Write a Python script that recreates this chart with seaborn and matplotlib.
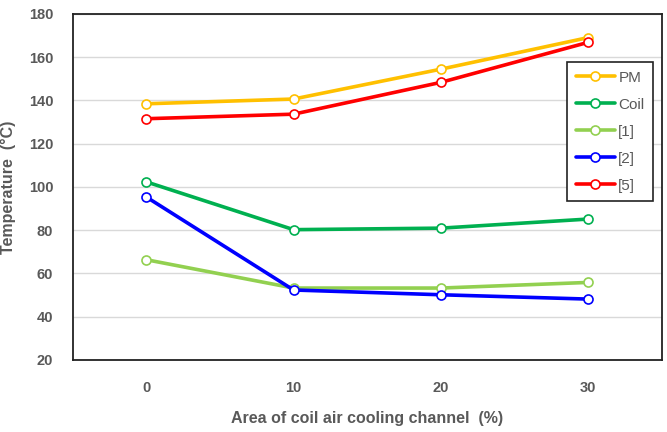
import pandas as pd
import seaborn as sns
import matplotlib.pyplot as plt

area = [0, 10, 20, 30]
pm = [138.4, 140.6, 154.4, 169.0]
coil = [102.3, 80.2, 80.9, 85.1]
ref1 = [66.3, 53.2, 53.2, 55.8]
ref2 = [95.3, 52.3, 50.1, 48.1]
ref5 = [131.5, 133.6, 148.3, 166.8]

series = ['PM', 'Coil', '[1]', '[2]', '[5]']
colors = ['#FFC000', '#00B050', '#92D050', '#0000FF', '#FF0000']

df = pd.DataFrame({
    'area': area * 5,
    'temp': pm + coil + ref1 + ref2 + ref5,
    'series': [s for s in series for _ in area],
})

sns.set_style('white')
plt.rcParams['font.family'] = ['Liberation Sans', 'DejaVu Sans']
gray = '#595959'

fig = plt.figure(figsize=(6.67, 4.32), dpi=100)
ax = fig.add_axes([0.109, 0.167, 0.883, 0.801])

for name, c in zip(series, colors):
    d = df[df['series'] == name]
    sns.lineplot(data=d, x='area', y='temp', ax=ax, color=c, lw=2.6,
                 marker='o', ms=6.5, mfc='white', mec=c, mew=1.2, label=name)

ax.set_xlim(-5, 35)
ax.set_ylim(20, 180)
ax.set_xticks(area)
ax.set_yticks(range(20, 181, 20))
ax.yaxis.grid(True, color='#D9D9D9', lw=1)
ax.set_axisbelow(True)
for sp in ax.spines.values():
    sp.set_color('#222222')
    sp.set_linewidth(1.3)
ax.tick_params(axis='both', length=0, labelsize=10.5, labelcolor=gray)
ax.tick_params(axis='x', pad=15)
ax.tick_params(axis='y', pad=14)
for t in ax.get_xticklabels() + ax.get_yticklabels():
    t.set_fontweight('bold')

ax.set_xlabel('Area of coil air cooling channel  (%)', fontsize=11.5,
              fontweight='bold', color=gray)
ax.set_ylabel('Temperature  (°C)', fontsize=11.5, fontweight='bold', color=gray)
ax.xaxis.set_label_coords(0.5, -0.148)
ax.yaxis.set_label_coords(-0.096, 0.5)

leg = ax.legend(loc='upper right', bbox_to_anchor=(0.985, 0.86), fancybox=False,
                edgecolor='#222222', framealpha=1, fontsize=11,
                handlelength=2.6, labelspacing=0.85, borderpad=0.55,
                handletextpad=0.2, borderaxespad=0)
leg.get_frame().set_linewidth(1.2)
for t in leg.get_texts():
    t.set_color(gray)

fig.savefig('out.png', dpi=100)
